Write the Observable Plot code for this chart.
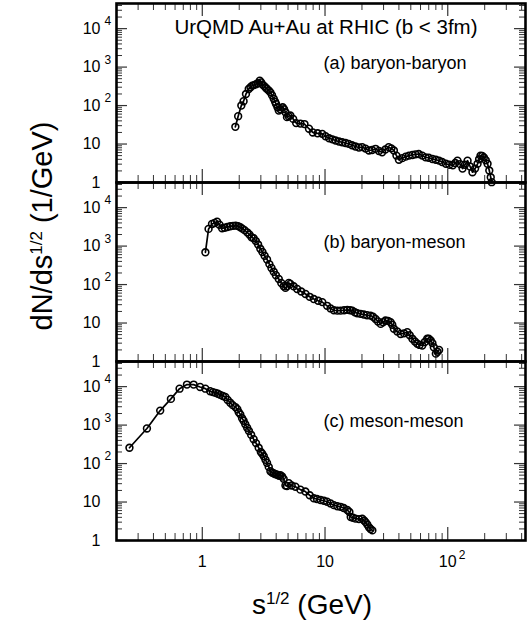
<!DOCTYPE html>
<html>
<head>
<meta charset="utf-8">
<script src="https://cdn.jsdelivr.net/npm/d3@7"></script>
<script src="https://cdn.jsdelivr.net/npm/@observablehq/plot@0.6"></script>
<style>
  body { margin: 0; background: #fff; }
  #wrap { position: relative; width: 532px; height: 627px; font-family: "Liberation Sans", Arial, Helvetica, sans-serif; color: #000; }
  #wrap svg { position: absolute; left: 0; top: 0; overflow: visible; }
  .atitle { position: absolute; white-space: nowrap; font-size: 28px; line-height: 1; transform: translate(-50%, -50%); }
  .atitle .sup { font-size: 17px; position: relative; top: -0.6em; }
  #ytitle { left: 42px; top: 226px; font-size: 29px; transform: translate(-50%, -50%) rotate(-90deg); }
  #xtitle { left: 312px; top: 605px; }
</style>
</head>
<body>
<div id="wrap">
  <div class="atitle" id="ytitle">dN/ds<span class="sup">1/2</span> (1/GeV)</div>
  <div class="atitle" id="xtitle">s<span class="sup">1/2</span> (GeV)</div>
</div>
<script>
// ---------- data ----------
const panels = ["a", "b", "c"];
const panelNames = ["(a) baryon-baryon", "(b) baryon-meson", "(c) meson-meson"];
const titleText = "UrQMD Au+Au at RHIC (b < 3fm)";

// (a) baryon-baryon
const bbX = [1.86, 1.96, 2.08, 2.17, 2.27, 2.39, 2.47, 2.55, 2.64, 2.74, 2.84, 2.94, 3.02, 3.10, 3.2, 3.29, 3.37, 3.48, 3.59, 3.7,
  3.82, 3.92, 3.99, 4.1, 4.2, 4.33, 4.52, 4.64, 4.76, 4.9, 5.05, 5.22, 5.5, 5.82, 6.3, 6.8, 7.4, 7.95, 8.7, 9.5,
  10.1, 10.8, 11.5, 12.2, 13, 13.8, 14.7, 15.6, 16.6, 17.7, 18.9, 20.1, 21.4, 22.8, 24.2, 25.8, 27.5, 29.2, 31, 33.0,
  34.7, 36.4, 38.2, 40, 42.6, 45.4, 48.3, 51.5, 54.6, 58, 62, 66, 70, 75, 80, 85, 90, 96.6, 103, 110,
  115, 120, 126, 132, 138, 145, 152, 159, 167, 175, 180, 185, 191, 197, 204, 211, 218, 224, 228];
const bbY = [28, 53, 100, 130, 200, 270, 300, 330, 340, 360, 380, 445, 400, 350, 320, 290, 270, 245, 220, 185,
  150, 125, 110, 90, 74, 80, 90, 80, 67, 50, 53, 55, 45, 35, 34, 33, 25, 20, 19, 18.4,
  16, 14.1, 13.2, 12.3, 11.6, 11.1, 10.6, 10.1, 9.3, 8.6, 8.1, 8.3, 7.6, 6.8, 7.0, 7.5, 6.6, 6.1, 7.2, 8.3,
  7.7, 6.8, 5.0, 3.9, 4.3, 4.7, 5.0, 5.2, 5.4, 5.5, 5.0, 4.5, 4.4, 4.1, 3.9, 3.7, 3.4, 3.06, 2.9, 2.8,
  3.2, 3.7, 3.0, 2.3, 2.9, 3.7, 2.6, 1.85, 2.3, 3.06, 4.0, 5.0, 4.9, 4.5, 3.8, 3.06, 2.05, 1.37, 1.02];

// (b) baryon-meson
const bmX = [1.06, 1.125, 1.20, 1.26, 1.32, 1.38, 1.45, 1.52, 1.60, 1.69, 1.78, 1.87, 1.96, 2.04, 2.12, 2.21, 2.32, 2.42, 2.52, 2.62,
  2.73, 2.85, 2.97, 3.09, 3.22, 3.37, 3.52, 3.66, 3.82, 3.98, 4.2, 4.4, 4.61, 4.76, 4.9, 5.07, 5.22, 5.55, 5.93, 6.4,
  6.93, 7.5, 8.1, 8.8, 9.5, 10.4, 11.1, 11.8, 12.6, 13.4, 14.3, 15.2, 16.0, 16.7, 17.5, 18.3, 19.5, 20.7, 22, 23.5,
  24.6, 25.8, 27, 28.4, 29.7, 31.1, 32.6, 34.2, 35.3, 36.4, 38.8, 41.3, 44, 46.8, 49, 51.5, 54, 56.5, 59, 62,
  65, 68, 70, 72.6, 75, 77, 80, 82.5, 85];
const bmY = [690, 2800, 3770, 4000, 4330, 3600, 2900, 3000, 3150, 3270, 3350, 3400, 3300, 3080, 2850, 2600, 2280, 2000, 1700, 1600,
  1350, 1100, 850, 700, 560, 450, 340, 270, 215, 175, 140, 110, 90, 82, 90, 110, 104, 90, 77, 66,
  57, 48, 42, 38, 35, 28, 24, 21.5, 21, 21, 21.5, 22, 21.5, 21, 19, 18, 17.3, 16.6, 16, 15.6,
  14.5, 12.8, 11, 9.5, 10.5, 11.6, 11.4, 10.5, 9, 7.1, 6.0, 5.2, 5.4, 5.8, 4.8, 3.9, 3.3, 2.9, 2.7, 2.6,
  3.2, 3.9, 3.9, 3.5, 3.0, 2.35, 1.6, 1.8, 2.0];

// (c) meson-meson
const mmX = [0.255, 0.354, 0.454, 0.555, 0.653, 0.75, 0.85, 0.96, 1.06, 1.16, 1.22, 1.28, 1.34, 1.40, 1.47, 1.54, 1.61, 1.69, 1.77, 1.86,
  1.93, 1.98, 2.04, 2.11, 2.17, 2.24, 2.32, 2.40, 2.50, 2.62, 2.74, 2.88, 3.00, 3.08, 3.17, 3.27, 3.37, 3.48, 3.59, 3.72,
  3.84, 3.95, 4.07, 4.22, 4.33, 4.47, 4.6, 4.76, 4.9, 5.07, 5.35, 5.74, 6.3, 6.92, 7.5, 8.1, 8.6, 9.2, 9.8, 10.4,
  11.1, 11.8, 12.6, 13.4, 14.2, 15.2, 15.8, 16.2, 16.9, 17.7, 18.9, 20.1, 20.8, 21.4, 22.1, 22.8, 23.5, 24.3];
const mmY = [258, 818, 2380, 4800, 8850, 11300, 11300, 9800, 8850, 7600, 7200, 6900, 6500, 6100, 5700, 5400, 4500, 3800, 3300, 2940,
  2600, 2150, 1900, 1500, 1300, 1050, 850, 700, 560, 430, 340, 258, 200, 180, 155, 125, 104, 82, 63, 58,
  55, 53, 51, 48, 50, 46, 40, 27, 26, 31, 27, 25, 21, 18.7, 15, 12.5, 12, 11.3, 10.8, 10.2,
  9.2, 8.3, 7.8, 7.5, 7.0, 6.2, 5.5, 4.1, 3.9, 3.7, 3.6, 3.7, 3.3, 3.0, 2.6, 2.2, 2.0, 1.83];

// axes
const xDomain = [0.2, 430];
const yDomain = [1, 45000];
const xMajor = [1, 10, 100];
const xLabelBase = ["1", "10", "10"];
const xLabelExp = ["", "", "2"];
const xMinor = [0.3, 0.4, 0.5, 0.6, 0.7, 0.8, 0.9, 2, 3, 4, 5, 6, 7, 8, 9, 20, 30, 40, 50, 60, 70, 80, 90, 200, 300, 400];
const yMajor = [1, 10, 100, 1000, 10000];
const yLabelBase = ["1", "10", "10", "10", "10"];
const yLabelExp = ["", "", "2", "3", "4"];
const yMinor = [2, 3, 4, 5, 6, 7, 8, 9, 20, 30, 40, 50, 60, 70, 80, 90, 200, 300, 400, 500, 600, 700, 800, 900,
  2000, 3000, 4000, 5000, 6000, 7000, 8000, 9000, 20000, 30000, 40000];

// ---------- build ----------
const rows = [];
bbX.forEach((x, i) => rows.push({panel: "a", x, y: bbY[i]}));
bmX.forEach((x, i) => rows.push({panel: "b", x, y: bmY[i]}));
mmX.forEach((x, i) => rows.push({panel: "c", x, y: mmY[i]}));

const W = 532, H = 627, mT = 3, mB = 87, mL = 116, mR = 7;
const bandH = (H - mT - mB) / 3;
const plotW = W - mL - mR;
const font = "Liberation Sans, Arial, Helvetica, sans-serif";

const chart = Plot.plot({
  width: W, height: H,
  marginTop: mT, marginBottom: mB, marginLeft: mL, marginRight: mR,
  style: {fontFamily: font, fontSize: "16px", color: "black", background: "transparent", overflow: "visible"},
  x: {type: "log", domain: xDomain, axis: null},
  y: {type: "log", domain: yDomain, axis: null},
  fy: {domain: panels, padding: 0, axis: null},
  marks: [
    // x ticks (inward, bottom and top of every panel)
    Plot.tickX(xMinor, {x: d => d, insetTop: bandH - 7, stroke: "#333", strokeWidth: 1}),
    Plot.tickX(xMinor, {x: d => d, insetBottom: bandH - 7, stroke: "#333", strokeWidth: 1}),
    Plot.tickX(xMajor, {x: d => d, insetTop: bandH - 13, stroke: "#333", strokeWidth: 1.2}),
    Plot.tickX(xMajor, {x: d => d, insetBottom: bandH - 13, stroke: "#333", strokeWidth: 1.2}),
    // y ticks (inward, left and right)
    Plot.tickY(yMinor, {y: d => d, insetRight: plotW - 6, stroke: "#333", strokeWidth: 1}),
    Plot.tickY(yMinor, {y: d => d, insetLeft: plotW - 6, stroke: "#333", strokeWidth: 1}),
    Plot.tickY(yMajor, {y: d => d, insetRight: plotW - 11, stroke: "#333", strokeWidth: 1.2}),
    Plot.tickY(yMajor, {y: d => d, insetLeft: plotW - 11, stroke: "#333", strokeWidth: 1.2}),
    // data
    Plot.line(rows, {x: "x", y: "y", fy: "panel", z: "panel", stroke: "black", strokeWidth: 1.7}),
    Plot.dot(rows, {x: "x", y: "y", fy: "panel", r: 3.4, stroke: "black", strokeWidth: 1.6, fill: "none"}),
    Plot.frame({stroke: "black", strokeWidth: 2.6}),
    // y tick labels
    Plot.text(yMajor, {y: d => d, text: (d, i) => yLabelBase[i], frameAnchor: "left", dx: -16, textAnchor: "end", fontSize: 16}),
    Plot.text(yMajor, {y: d => d, text: (d, i) => yLabelExp[i], frameAnchor: "left", dx: -12, dy: -7, textAnchor: "start", fontSize: 12}),
    // x tick labels (bottom panel only)
    Plot.text(xMajor, {x: d => d, fy: () => "c", text: (d, i) => xLabelBase[i], frameAnchor: "bottom", dy: 26, fontSize: 16}),
    Plot.text(xMajor, {x: d => d, fy: () => "c", text: (d, i) => xLabelExp[i], frameAnchor: "bottom", dx: 11, dy: 18, textAnchor: "start", fontSize: 12}),
    // panel labels
    Plot.text(panelNames, {fy: (d, i) => panels[i], text: d => d, frameAnchor: "top-left", dx: 207, dy: 65, lineAnchor: "bottom", textAnchor: "start", fontSize: 18}),
    Plot.text([titleText], {fy: () => "a", text: d => d, frameAnchor: "top", dx: 5, dy: 30, lineAnchor: "bottom", fontSize: 20.5})
  ]
});

document.getElementById("wrap").prepend(chart);
</script>
</body>
</html>
